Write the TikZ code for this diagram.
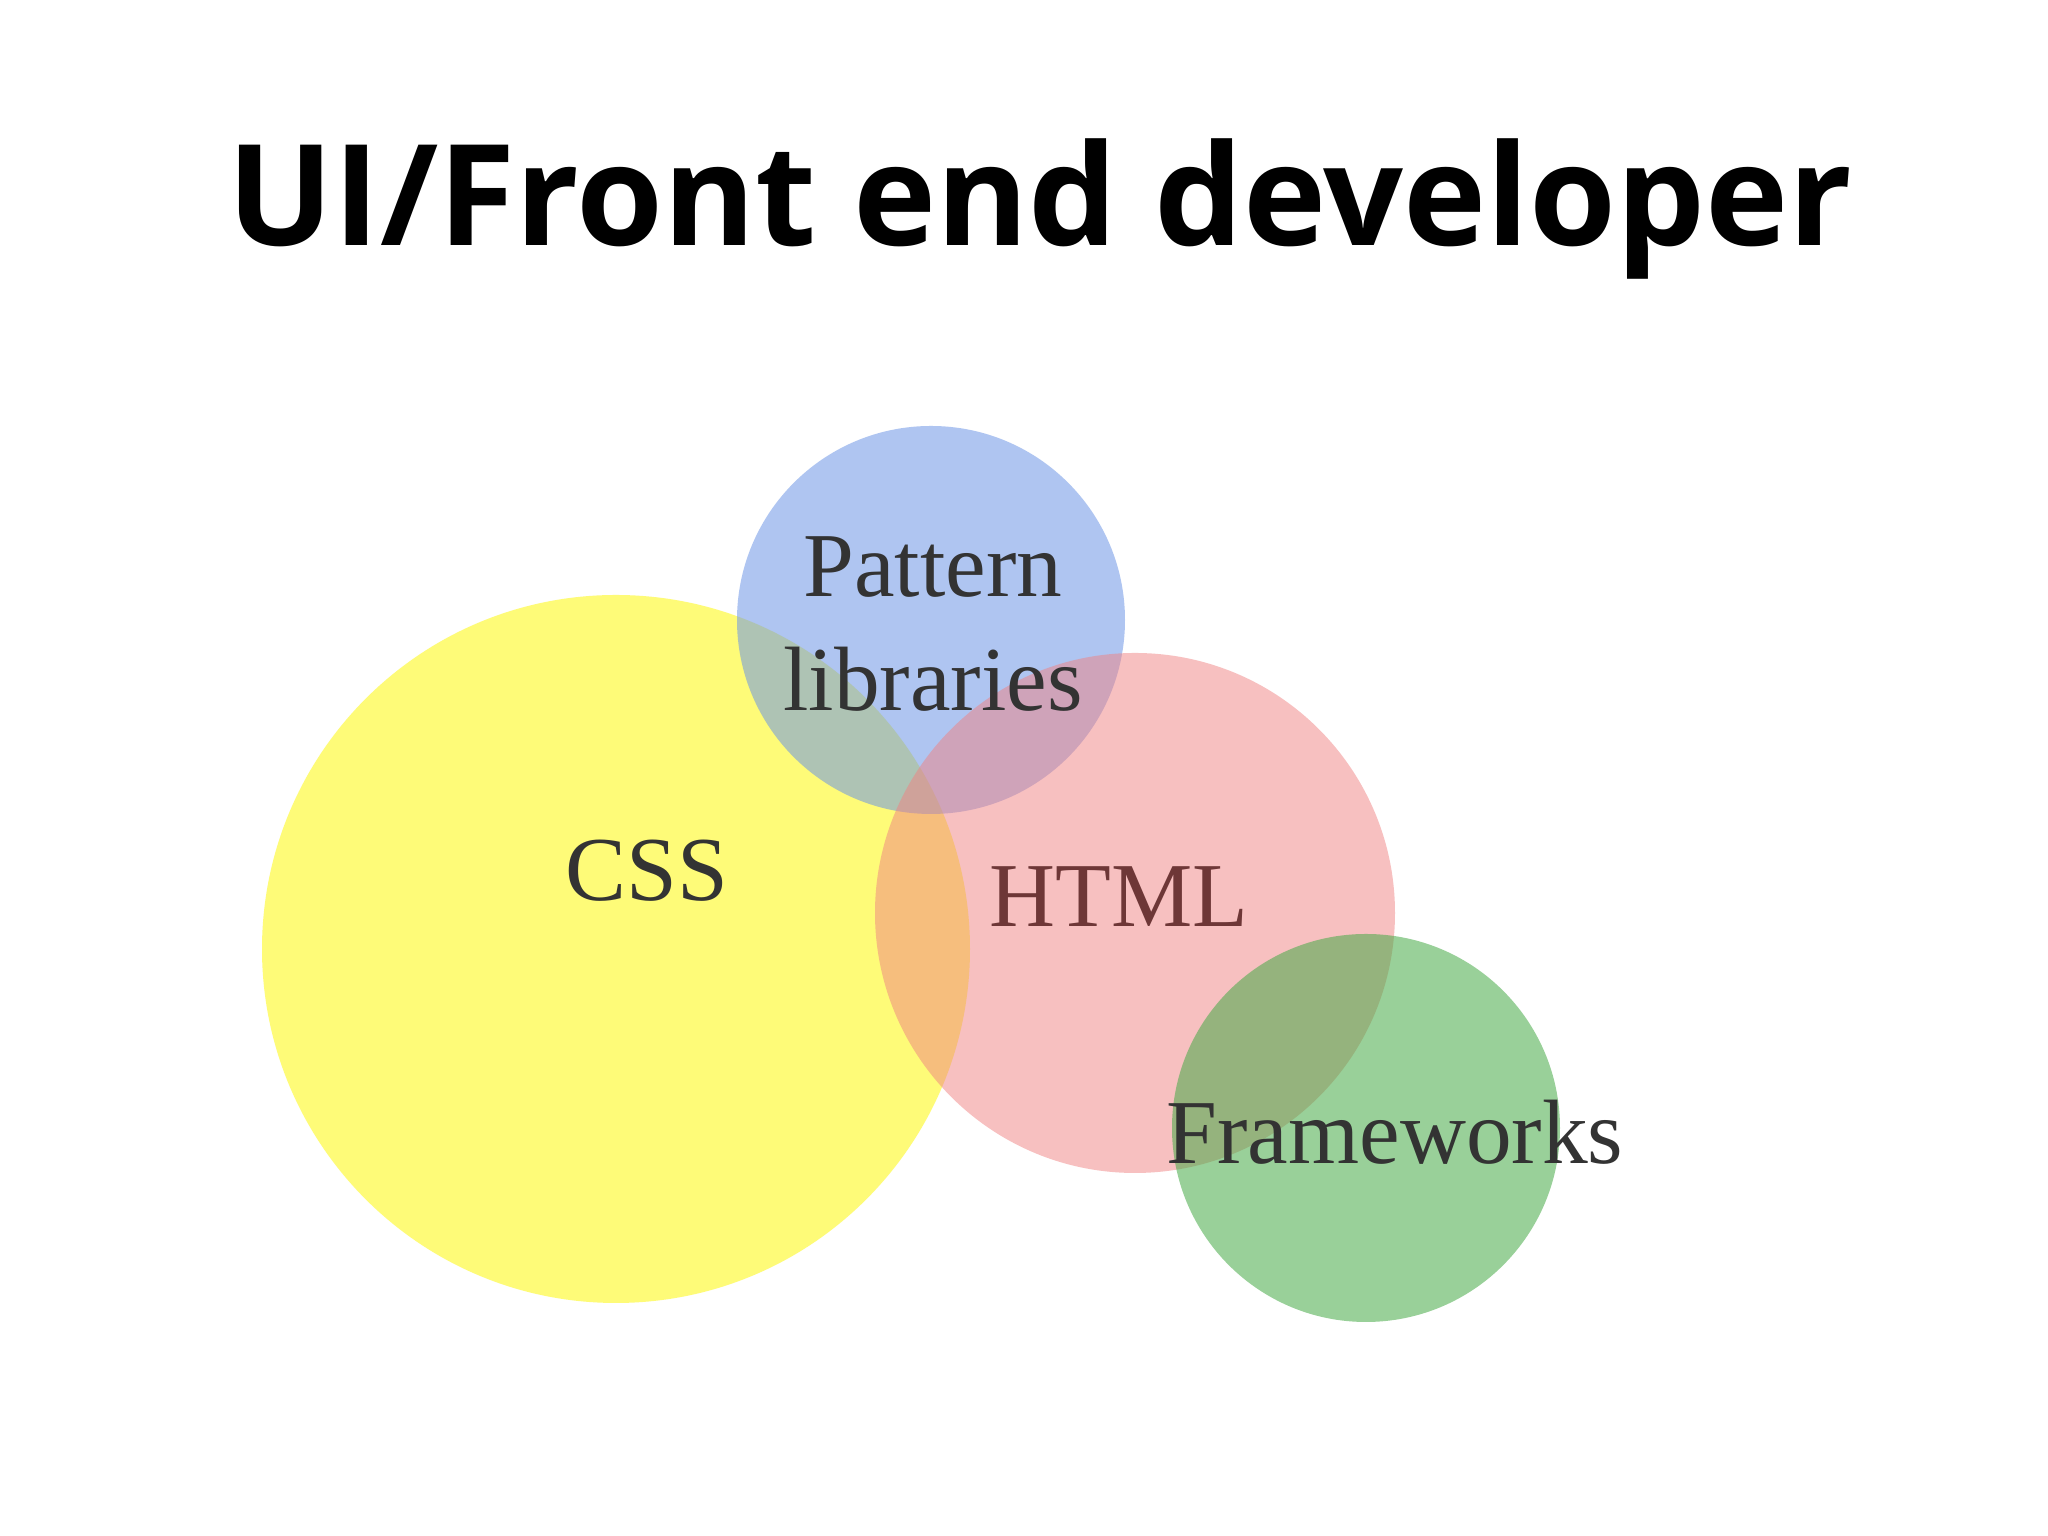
\documentclass[tikz,border=0pt]{standalone}
\usepackage{fontspec}
\setmainfont{Liberation Serif}
\newfontfamily\titlefont{Open Sans}
\begin{document}
\begin{tikzpicture}
\useasboundingbox (0,0) rectangle (20.48,15.36);
\fill[white] (0,0) rectangle (20.48,15.36);
\tikzset{lbl/.style={font=\fontsize{26}{30}\selectfont, text=black!80}}
\fill[fill={rgb,255:red,254;green,251;blue,120}] (6.16,5.87) circle (3.54);
\fill[fill={rgb,255:red,110;green,150;blue,230},fill opacity=0.55] (9.31,9.16) circle (1.94);
\fill[fill={rgb,255:red,240;green,130;blue,130},fill opacity=0.5] (11.35,6.23) circle (2.60);
\fill[fill={rgb,255:red,70;green,170;blue,70},fill opacity=0.55] (13.66,4.08) circle (1.94);
\node[font=\titlefont\bfseries\fontsize{40}{46}\selectfont, anchor=base] (t) at (10.40,12.9) {UI/Front end developer};
\node[lbl] (p) at (9.33,9.69) {Pattern};
\node[lbl] (l) at (9.33,8.57) {libraries};
\node[lbl] (c) at (6.47,6.65) {CSS};
\node[lbl, text={rgb,255:red,110;green,55;blue,55}] (h) at (11.19,6.39) {HTML};
\node[lbl] (f) at (13.95,4.04) {Frameworks};
\end{tikzpicture}
\end{document}
